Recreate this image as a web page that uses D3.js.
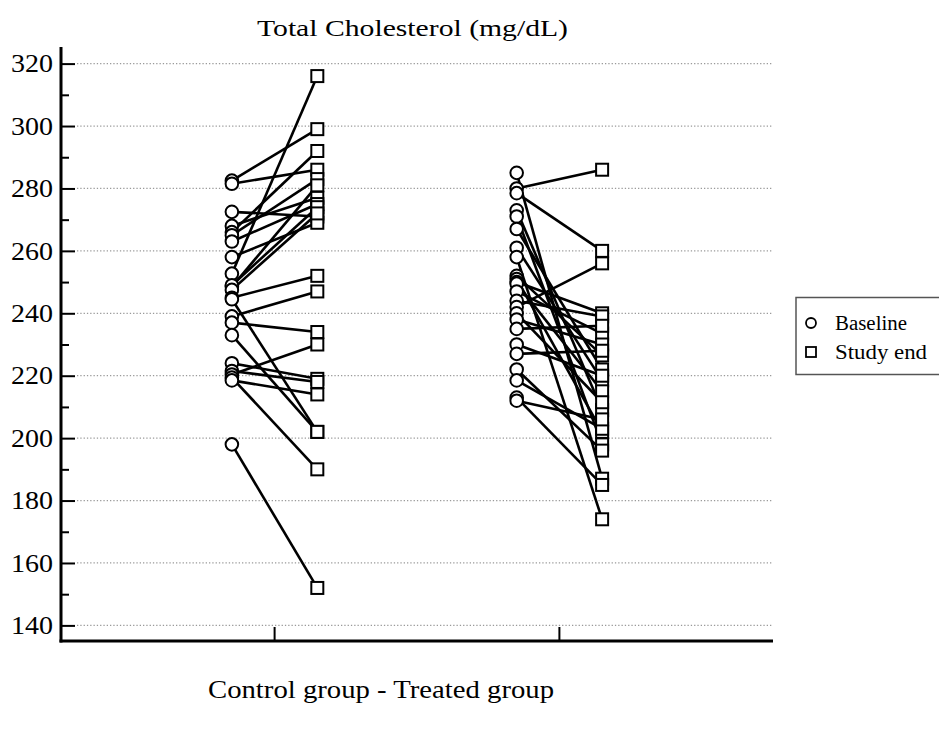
<!DOCTYPE html>
<meta charset="utf-8">
<script src="https://d3js.org/d3.v7.min.js"></script>
<style>
  body { margin: 0; background: #fff; }
  text { font-family: "Liberation Serif", "Times New Roman", serif; fill: #000; }
</style>
<div id="chart"></div>
<script>

// groups on the x axis
const groups = ["Control group", "Treated group"];

// control group, paired values (mg/dL)
const controlBaseline = [282.5, 281.5, 272.5, 268, 266, 265, 263, 258, 252.7, 248.5, 249, 247.5, 245, 244.5, 239, 237, 233, 224, 221.5, 220.4, 219.4, 218.5, 198];
const controlEnd      = [299,   286,   271,   277, 292, 283, 275, 269, 316,   281,   274, 272,   252, 202,   247, 234, 202, 219, 218,   230,   190,   214,   152];

// treated group, paired values (mg/dL)
const treatedBaseline = [285, 280, 278.5, 273, 271, 267, 261,   258, 252,   251, 250, 249.5, 247,   244, 242, 240,   238, 235, 230, 227, 222, 218.5, 213, 212];
const treatedEnd      = [187, 286, 260,   209, 198, 222, 218.5, 174, 226.5, 202, 240, 215,   233.5, 239, 256, 211.5, 230, 236, 220, 228, 196, 203,   185, 206];

const yTicks = [140, 160, 180, 200, 220, 240, 260, 280, 300, 320];
const yMinor = [150, 170, 190, 210, 230, 250, 270, 290, 310];

const width = 939, height = 733;

const svg = d3.select("#chart")
  .append("svg")
    .attr("width", width)
    .attr("height", height);

// scales
const x = d3.scaleLinear().domain([0.25, 2.75]).range([61, 773]);
const y = d3.scaleLinear().domain([135, 325]).range([641, 48]);
const off = 0.15;

// grid lines
svg.selectAll(".grid")
  .data(yTicks)
  .join("line")
    .attr("x1", 77)
    .attr("x2", 773)
    .attr("y1", d => y(d))
    .attr("y2", d => y(d))
    .attr("stroke", "#9a9a9a")
    .attr("stroke-width", 1.2)
    .attr("stroke-dasharray", "1.3,2");

// y axis: ticks go inside the plot
const yAxis = svg.append("g")
  .attr("transform", `translate(${x.range()[0]},0)`)
  .call(d3.axisRight(y).tickValues(yTicks).tickSize(14).tickFormat(""));
yAxis.select(".domain").remove();
yAxis.selectAll("line").attr("stroke", "#000").attr("stroke-width", 2);

svg.append("g")
  .attr("transform", `translate(${x.range()[0]},0)`)
  .call(d3.axisRight(y).tickValues(yMinor).tickSize(8).tickFormat(""))
  .call(g => g.select(".domain").remove())
  .selectAll("line").attr("stroke", "#000").attr("stroke-width", 2);

// tick labels
svg.selectAll(".ylab")
  .data(yTicks)
  .join("text")
    .attr("x", 53)
    .attr("y", d => y(d))
    .attr("dy", "0.35em")
    .attr("text-anchor", "end")
    .attr("font-size", "25px")
    .attr("textLength", 42)
    .attr("lengthAdjust", "spacingAndGlyphs")
    .text(d => d);

// x axis ticks (pointing up)
svg.selectAll(".xtick")
  .data(groups)
  .join("line")
    .attr("x1", (d, i) => x(i + 1))
    .attr("x2", (d, i) => x(i + 1))
    .attr("y1", 627)
    .attr("y2", 641)
    .attr("stroke", "#000")
    .attr("stroke-width", 2);

// axis lines
svg.append("line")
  .attr("x1", x.range()[0]).attr("x2", x.range()[0])
  .attr("y1", 47).attr("y2", 642.5)
  .attr("stroke", "#000").attr("stroke-width", 3);
svg.append("line")
  .attr("x1", x.range()[0] - 1.5).attr("x2", 773)
  .attr("y1", 641).attr("y2", 641)
  .attr("stroke", "#000").attr("stroke-width", 3);

// build pairs
const pairs = [];
controlBaseline.forEach((b, i) => pairs.push({ g: 1, b: b, e: controlEnd[i] }));
treatedBaseline.forEach((b, i) => pairs.push({ g: 2, b: b, e: treatedEnd[i] }));

// connecting lines
svg.selectAll(".pair")
  .data(pairs)
  .join("line")
    .attr("x1", d => x(d.g - off))
    .attr("y1", d => y(d.b))
    .attr("x2", d => x(d.g + off))
    .attr("y2", d => y(d.e))
    .attr("stroke", "#000")
    .attr("stroke-width", 2.6);

// baseline circles
svg.selectAll(".base")
  .data(pairs)
  .join("circle")
    .attr("cx", d => x(d.g - off))
    .attr("cy", d => y(d.b))
    .attr("r", 6.3)
    .attr("fill", "#fff")
    .attr("stroke", "#000")
    .attr("stroke-width", 2);

// study end squares
const s = 12;
svg.selectAll(".end")
  .data(pairs)
  .join("rect")
    .attr("x", d => x(d.g + off) - s / 2)
    .attr("y", d => y(d.e) - s / 2)
    .attr("width", s)
    .attr("height", s)
    .attr("fill", "#fff")
    .attr("stroke", "#000")
    .attr("stroke-width", 2);

// title and x label
svg.append("text")
  .attr("x", 257).attr("y", 36)
  .attr("font-size", "24px")
  .attr("textLength", 311)
  .attr("lengthAdjust", "spacingAndGlyphs")
  .text("Total Cholesterol (mg/dL)");

svg.append("text")
  .attr("x", 208).attr("y", 698)
  .attr("font-size", "25px")
  .attr("textLength", 346)
  .attr("lengthAdjust", "spacingAndGlyphs")
  .text(groups.join(" - "));

// legend
const leg = svg.append("g");
leg.append("rect")
  .attr("x", 796).attr("y", 297.5)
  .attr("width", 145).attr("height", 77)
  .attr("fill", "#fff")
  .attr("stroke", "#555")
  .attr("stroke-width", 1.5);
leg.append("circle")
  .attr("cx", 811).attr("cy", 323).attr("r", 5)
  .attr("fill", "#fff").attr("stroke", "#000").attr("stroke-width", 1.8);
leg.append("rect")
  .attr("x", 806).attr("y", 347).attr("width", 10).attr("height", 10)
  .attr("fill", "#fff").attr("stroke", "#000").attr("stroke-width", 1.8);
leg.append("text").attr("x", 835).attr("y", 323).attr("dy", "0.35em")
  .attr("font-size", "20px")
  .attr("textLength", 72).attr("lengthAdjust", "spacingAndGlyphs")
  .text("Baseline");
leg.append("text").attr("x", 835).attr("y", 352).attr("dy", "0.35em")
  .attr("font-size", "20px")
  .attr("textLength", 92).attr("lengthAdjust", "spacingAndGlyphs")
  .text("Study end");

</script>
